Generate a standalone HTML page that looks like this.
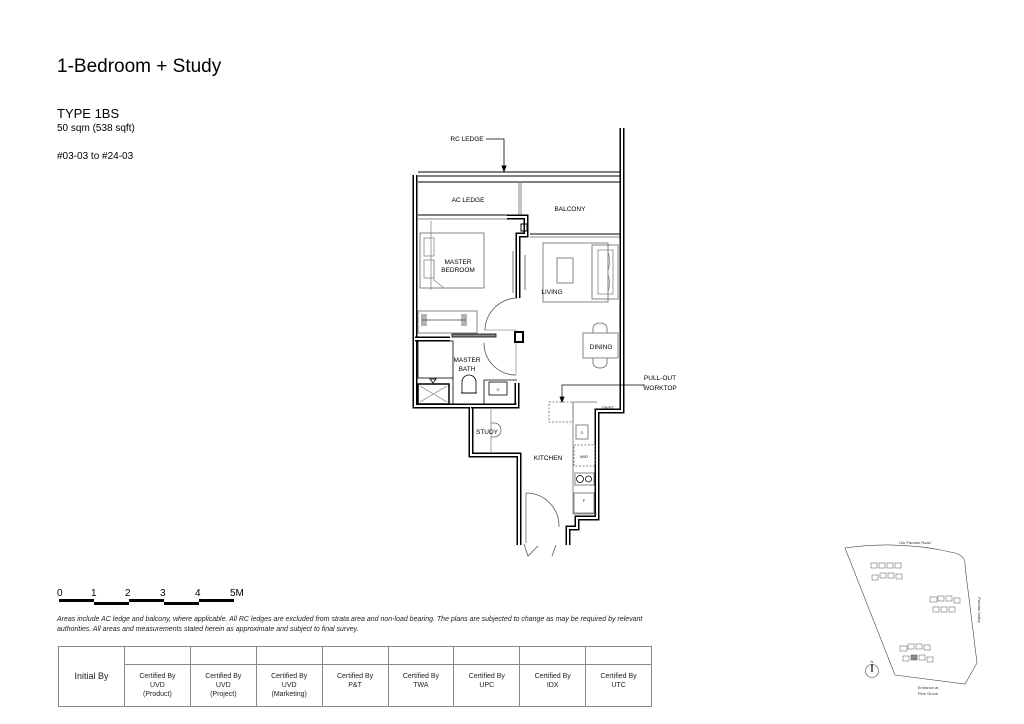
<!DOCTYPE html>
<html><head><meta charset="utf-8"><style>
html,body{margin:0;padding:0;background:#fff;}
body{width:1024px;height:724px;position:relative;overflow:hidden;font-family:"Liberation Sans",sans-serif;color:#000;}
.a{position:absolute;white-space:nowrap;}
table{position:absolute;left:58px;top:646px;border-collapse:collapse;width:594px;}
td{border:1px solid #888;font-size:7px;text-align:center;color:#222;line-height:9px;padding:0;}
</style></head><body>
<div class="a" style="left:57px;top:56px;font-size:19px;">1-Bedroom + Study</div>
<div class="a" style="left:57px;top:106px;font-size:13px;">TYPE 1BS</div>
<div class="a" style="left:57px;top:123px;font-size:10px;">50 sqm (538 sqft)</div>
<div class="a" style="left:57px;top:151px;font-size:10px;">#03-03 to #24-03</div>

<svg width="1024" height="724" style="position:absolute;left:0;top:0" font-family="Liberation Sans, sans-serif">
<g fill="none" stroke="#000" stroke-width="1">
 <!-- top ledge -->
 <line x1="418" y1="172" x2="620" y2="172"/><line x1="418" y1="176" x2="620" y2="176"/>
 <line x1="418" y1="182" x2="620" y2="182"/>
 <line x1="519" y1="182" x2="519" y2="215" stroke="#888"/><line x1="521" y1="182" x2="521" y2="215" stroke="#888"/>
 <line x1="418" y1="215" x2="507" y2="215"/><line x1="418" y1="219" x2="507" y2="219" stroke="#888"/>
 <line x1="530" y1="234" x2="620" y2="234"/><line x1="530" y1="237" x2="620" y2="237" stroke="#888"/>
 <!-- RC ledge leader -->
 <polyline points="486,139 504,139 504,170" stroke-width="0.8"/>
 <path d="M502,166 L504,171 L506,166Z" fill="#000"/>
</g>
<!-- walls -->
<g fill="none" stroke-linejoin="miter">
 <path id="w" d="M415,175 L415,406 L471,406 L471,455 L519,455 L519,545 M568,545 L568,528 L577,528 L577,518 L597,518 L597,411 L622,411 L622,128" stroke="#000" stroke-width="5"/>
 <path d="M415,175 L415,406 L471,406 L471,455 L519,455 L519,545 M568,545 L568,528 L577,528 L577,518 L597,518 L597,411 L622,411 L622,128" stroke="#fff" stroke-width="2"/>
 <path d="M415,339 L450,339 M517,383 L517,406 L471,406 M507,217 L526,217 L526,235 L518,235 L518,298" stroke="#000" stroke-width="5"/>
 <path d="M415,339 L450,339 M517,383 L517,406 L471,406 M507,217 L526,217 L526,235 L518,235 L518,298" stroke="#fff" stroke-width="2"/>
 <rect x="515" y="332" width="8" height="10" stroke="#000" stroke-width="2" fill="#fff"/>
 <rect x="521" y="224" width="6" height="7" stroke="#000" stroke-width="1"/>
</g>
<g fill="none" stroke="#000" stroke-width="0.8">
 <!-- bath -->
 <rect x="418" y="341" width="35" height="37"/>
 <rect x="418" y="384" width="31" height="20" stroke-width="1.5"/>
 <path d="M420,386 L447,402 M447,386 L420,402" stroke="#999"/>
 <path d="M430,379 L436,379 L433,383Z"/>
 <line x1="453" y1="378" x2="453" y2="404"/>
 <line x1="453" y1="404" x2="517" y2="404"/>
 <path d="M462,393 L462,382 A7,7 0 0 1 476,382 L476,393Z"/>
 <line x1="461" y1="393" x2="477" y2="393"/>
 <rect x="489" y="382" width="18" height="13"/>
 <line x1="484" y1="380" x2="517" y2="380"/><line x1="484" y1="380" x2="484" y2="404"/>
 <path d="M484,343 A32,32 0 0 0 516,375" stroke="#555"/>
 <line x1="516" y1="343" x2="516" y2="375" stroke="#999"/>
 <!-- bedroom -->
 <rect x="420" y="233" width="64" height="55" stroke="#666"/>
 <rect x="424" y="238" width="10" height="18" stroke="#888"/><rect x="424" y="260" width="10" height="18" stroke="#888"/>
 <path d="M434,260 L434,280 L444,288" stroke="#888"/>
 <line x1="431" y1="221" x2="431" y2="290" stroke="#888"/>
 <rect x="418" y="311" width="59" height="22" stroke="#666"/>
 <path d="M422,314 v12 M424,314 v12 M426,314 v12 M462,314 v12 M464,314 v12 M466,314 v12" stroke="#444"/>
 <line x1="422" y1="320" x2="466" y2="320" stroke="#444"/>
 <rect x="452" y="334" width="44" height="3" fill="#888"/>
 <path d="M485,330 A33,33 0 0 1 517,298" stroke="#555"/>
 <line x1="484" y1="330" x2="517" y2="330" stroke="#999"/>
 <line x1="513" y1="251" x2="513" y2="293" stroke="#555"/><line x1="525" y1="255" x2="525" y2="290" stroke="#555"/>
 <!-- living -->
 <rect x="543" y="243" width="65" height="59" stroke="#666"/>
 <rect x="557" y="258" width="16" height="25" stroke="#666"/>
 <rect x="592" y="245" width="26" height="54" stroke="#666"/>
 <rect x="598" y="250" width="15" height="44" stroke="#888"/>
 <path d="M608,252 q3,9 0,19 M608,274 q3,9 0,18" stroke="#888"/>
 <!-- dining -->
 <rect x="583" y="333" width="35" height="25" stroke="#666"/>
 <path d="M593,333 L593,328 A7,5 0 0 1 607,328 L607,333 M593,358 L593,363 A7,5 0 0 0 607,363 L607,358" stroke="#666"/>
 <!-- kitchen -->
 <polyline points="597,402 573,402 573,514 597,514" stroke="#666"/>
 <rect x="549" y="402" width="24" height="20" stroke-dasharray="2,1.5" stroke="#666"/>
 <polyline points="562,400 562,385 645,385" stroke-width="0.7"/>
 <path d="M560,397 L562,402 L564,397Z" fill="#000"/>
 <rect x="576" y="425" width="12" height="14" stroke="#666"/>
 <rect x="574" y="445" width="21" height="21" stroke-dasharray="2,1.5" stroke="#666"/>
 <rect x="575" y="473" width="19" height="12" stroke="#666"/>
 <circle cx="580" cy="479" r="3.5"/><circle cx="588.5" cy="479" r="3"/>
 <rect x="574" y="493" width="20" height="20" stroke="#666"/>
 <!-- study -->
 <line x1="491" y1="408" x2="491" y2="453" stroke="#888"/>
 <path d="M491,423 L494,423 A7,7 0 0 1 494,437 L491,437" stroke="#666"/>
 <!-- entry door -->
 <line x1="526" y1="493" x2="526" y2="543" stroke="#666"/>
 <path d="M526,493 A33,33 0 0 1 559,527" stroke="#555"/>
 <path d="M524,544 L528,556 L538,546 M556,545 L552,556" stroke="#555"/>
</g>
<g font-size="6.5" fill="#000" text-anchor="middle">
 <text x="467" y="141">RC LEDGE</text>
 <text x="468" y="202">AC LEDGE</text>
 <text x="570" y="211">BALCONY</text>
 <text x="458" y="264">MASTER</text><text x="458" y="272">BEDROOM</text>
 <text x="552" y="294">LIVING</text>
 <text x="601" y="349">DINING</text>
 <text x="467" y="362">MASTER</text><text x="467" y="371">BATH</text>
 <text x="660" y="380">PULL-OUT</text><text x="660" y="390">WORKTOP</text>
 <text x="487" y="434">STUDY</text>
 <text x="548" y="460">KITCHEN</text>
 <text x="608" y="409" font-size="4">DB/ST</text>
 <text x="584" y="458" font-size="4">W/D</text>
 <text x="584" y="502" font-size="4">F</text>
 <text x="582" y="434" font-size="3.5">O</text>
 <text x="498" y="391" font-size="3.5">O</text>
</g>
<!-- scale bar -->
<g font-size="10" fill="#000">
 <text x="57" y="596">0</text><text x="91" y="596">1</text><text x="125" y="596">2</text><text x="160" y="596">3</text><text x="195" y="596">4</text><text x="230" y="596">5M</text>
</g>
<g fill="#000">
 <rect x="59" y="599" width="35" height="3"/><rect x="94" y="602" width="35" height="3"/>
 <rect x="129" y="599" width="35" height="3"/><rect x="164" y="602" width="35" height="3"/>
 <rect x="199" y="599" width="35" height="3"/>
</g>
<!-- site plan -->
<g fill="none" stroke="#444" stroke-width="0.6">
 <path d="M845,548 Q900,540 955,553 Q966,556 965,566 L977,663 L965,684 L895,675 Z"/>
 <g stroke="#555" stroke-width="0.5">
  <rect x="871" y="563" width="6" height="5"/><rect x="879" y="563" width="6" height="5"/><rect x="887" y="563" width="6" height="5"/><rect x="895" y="563" width="6" height="5"/>
  <rect x="872" y="575" width="6" height="5"/><rect x="880" y="573" width="6" height="5"/><rect x="888" y="573" width="6" height="5"/><rect x="896" y="574" width="6" height="5"/>
  <rect x="930" y="597" width="7" height="5"/><rect x="938" y="596" width="6" height="5"/><rect x="946" y="596" width="6" height="5"/><rect x="954" y="598" width="6" height="5"/>
  <rect x="933" y="607" width="6" height="5"/><rect x="941" y="607" width="6" height="5"/><rect x="949" y="607" width="6" height="5"/>
  <rect x="900" y="646" width="7" height="5"/><rect x="908" y="644" width="6" height="5"/><rect x="916" y="644" width="6" height="5"/><rect x="924" y="645" width="6" height="5"/>
  <rect x="903" y="656" width="6" height="5"/><rect x="911" y="655" width="6" height="5" fill="#888"/><rect x="919" y="655" width="6" height="5"/><rect x="927" y="657" width="6" height="5"/>
 </g>
 <circle cx="872" cy="671" r="6.5"/>
 <line x1="872" y1="664" x2="872" y2="672" stroke="#000" stroke-width="1.2"/>
</g>
<g font-size="4" fill="#333" text-anchor="middle">
 <text x="915" y="544">Ulu Pandan Road</text>
 <text x="978" y="610" transform="rotate(90 978 610)">Pandan Valley</text>
 <text x="928" y="689">Entrance at</text><text x="928" y="695">Pine Grove</text>
 <text x="872" y="663">N</text>
</g>
</svg>

<div class="a" style="left:57px;top:615px;font-size:7px;font-style:italic;color:#222;line-height:10px;">Areas include AC ledge and balcony, where applicable. All RC ledges are excluded from strata area and non-load bearing. The plans are subjected to change as may be required by relevant<br>authorities. All areas and measurements stated herein as approximate and subject to final survey.</div>

<table>
<tr style="height:18px"><td rowspan="2" style="width:65px;font-size:9px;">Initial By</td><td></td><td></td><td></td><td></td><td></td><td></td><td></td><td></td></tr>
<tr style="height:42px"><td>Certified By<br>UVD<br>(Product)</td><td>Certified By<br>UVD<br>(Project)</td><td>Certified By<br>UVD<br>(Marketing)</td><td>Certified By<br>P&amp;T<br>&nbsp;</td><td>Certified By<br>TWA<br>&nbsp;</td><td>Certified By<br>UPC<br>&nbsp;</td><td>Certified By<br>IDX<br>&nbsp;</td><td>Certified By<br>UTC<br>&nbsp;</td></tr>
</table>
</body></html>
